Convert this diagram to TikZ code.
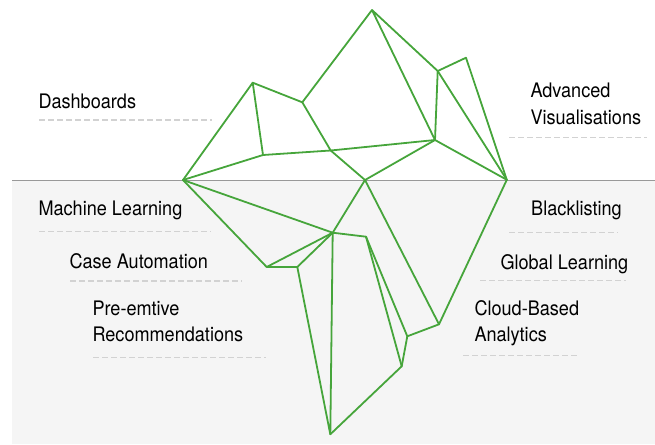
\documentclass[tikz,border=0pt]{standalone}
\usepackage{fontspec}
\setmainfont[FakeStretch=0.905]{TeX Gyre Heros}
\definecolor{berg}{HTML}{46A53B}
\definecolor{sea}{HTML}{F5F5F5}
\definecolor{horizon}{HTML}{999999}
\definecolor{rulegray}{HTML}{D2D2D2}
\tikzset{
  berg line/.style={draw=berg,line width=1.8pt,line join=round,line cap=round},
  label text/.style={anchor=base west,inner sep=0pt,outer sep=0pt,align=left,font=\fontsize{20}{26}\selectfont,text=black},
  under rule/.style={draw=rulegray,line width=1.2pt,dash pattern=on 6pt off 3pt},
}
\begin{document}
\begin{tikzpicture}[x=1pt,y=-1pt]
\useasboundingbox (0,0) rectangle (655,444);
\fill[sea] (12,180) rectangle (655,444);
\coordinate (hl) at (12,180);
\coordinate (hr) at (655,180);
\draw[horizon,line width=1pt] (hl) -- (hr);
% vertices
\coordinate (A) at (183,180);
\coordinate (B) at (252.7,82.7);
\coordinate (C) at (302.3,102.3);
\coordinate (T) at (372,10);
\coordinate (D) at (437.7,71);
\coordinate (E) at (466,57.7);
\coordinate (R) at (506.8,179.8);
\coordinate (F) at (435,140);
\coordinate (G) at (263,155);
\coordinate (H) at (330.7,150.5);
\coordinate (M) at (365,180);
\coordinate (N) at (332.7,232.7);
\coordinate (P) at (366,236.7);
\coordinate (Q) at (266.7,267);
\coordinate (S) at (297.3,267);
\coordinate (Z) at (330.3,434.3);
\coordinate (U) at (401.7,366.3);
\coordinate (V) at (407.3,336.3);
\coordinate (W) at (439,324.3);
% edges
\draw[berg line] (A) -- (B) -- (C) -- (T) -- (D) -- (E) -- (R) -- (F) -- (T);
\draw[berg line] (D) -- (R);
\draw[berg line] (D) -- (F) -- (M) -- (H) -- (C);
\draw[berg line] (B) -- (G) -- (A);
\draw[berg line] (G) -- (H) -- (F);
\draw[berg line] (A) -- (N) -- (M) -- (W) -- (R);
\draw[berg line] (A) -- (Q) -- (N);
\draw[berg line] (Q) -- (S) -- (N);
\draw[berg line] (S) -- (Z) -- (N) -- (P) -- (V) -- (W);
\draw[berg line] (Z) -- (U) -- (V);
\draw[berg line] (P) -- (U);
% labels
\node[label text] (dash) at (38.5,108) {Dashboards};
\node[label text] (adv) at (530.5,97.3) {Advanced};
\node[label text] (vis) at (530.5,124.3) {Visualisations};
\node[label text] (ml) at (38.5,215.7) {Machine Learning};
\node[label text] (ca) at (69.5,268.7) {Case Automation};
\node[label text] (pre) at (92.5,315.7) {Pre-emtive};
\node[label text] (rec) at (92.5,341.7) {Recommendations};
\node[label text] (bl) at (531.2,215.7) {Blacklisting};
\node[label text] (gl) at (500.5,269) {Global Learning};
\node[label text] (cb) at (474.5,315.7) {Cloud-Based};
\node[label text] (an) at (474.5,341.7) {Analytics};
% rules
\coordinate (r1a) at (39,120); \coordinate (r1b) at (212,120);
\coordinate (r2a) at (509,137.7); \coordinate (r2b) at (647,137.7);
\coordinate (r3a) at (39,231.5); \coordinate (r3b) at (211,231.5);
\coordinate (r4a) at (70,281); \coordinate (r4b) at (242,281);
\coordinate (r5a) at (93,357.7); \coordinate (r5b) at (266,357.7);
\coordinate (r6a) at (509,232.3); \coordinate (r6b) at (618,232.3);
\coordinate (r7a) at (480,280.3); \coordinate (r7b) at (626,280.3);
\coordinate (r8a) at (463,355.7); \coordinate (r8b) at (577,355.7);
\foreach \i in {1,...,8} \draw[under rule] (r\i a) -- (r\i b);
\end{tikzpicture}
\end{document}
